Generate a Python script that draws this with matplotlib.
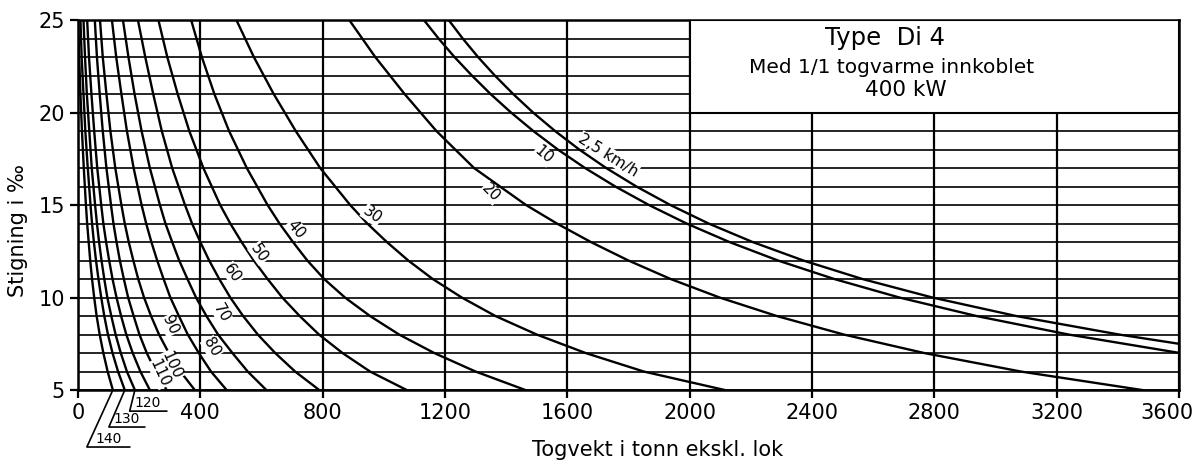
import matplotlib.pyplot as plt
from matplotlib.patches import Rectangle
from matplotlib.transforms import offset_copy

# gradient levels (promille) where the speed curves were read
stigning = [25, 23, 21, 19, 17, 15, 14, 13, 12, 11, 10, 9, 8, 7, 6, 5]

# train weight in tonnes at those gradients, one list per speed (km/h)
v20 = [887, 972, 1068, 1172, 1295, 1465, 1566, 1677, 1800, 1938, 2098, 2285, 2504, 2767, 3083, 3480]
v30 = [518, 575, 640, 712, 792, 890, 946, 1010, 1080, 1160, 1255, 1365, 1500, 1660, 1850, 2115]
v40 = [370, 405, 446, 494, 552, 620, 659, 703, 750, 805, 873, 955, 1050, 1165, 1300, 1463]
v50 = [263, 292, 326, 364, 410, 465, 498, 535, 575, 620, 668, 725, 788, 865, 955, 1075]
v60 = [196, 220, 246, 274, 308, 350, 373, 400, 429, 462, 498, 540, 588, 645, 710, 789]
v70 = [147, 165, 185, 208, 235, 268, 286, 308, 331, 358, 386, 420, 458, 505, 555, 616]
v80 = [111, 125, 142, 160, 182, 208, 223, 240, 259, 280, 302, 330, 359, 395, 435, 486]
v90 = [72, 81, 93, 106, 122, 142, 153, 166, 181, 197, 216, 239, 265, 297, 335, 382]
v100 = [55, 62, 71, 81, 93, 108, 116, 126, 137, 150, 164, 182, 201, 225, 254, 290]
v110 = [30, 36, 44, 53, 63, 76, 83, 92, 102, 113, 126, 141, 158, 179, 204, 235]
v120 = [18, 23, 29, 37, 45, 56, 62, 69, 77, 86, 96, 109, 123, 140, 160, 186]
v130 = [8, 12, 18, 24, 32, 41, 46, 52, 59, 67, 76, 86, 98, 113, 131, 153]
v140 = [0, 4, 8, 13, 19, 26, 30, 35, 40, 46, 53, 61, 71, 83, 97, 114]

# the two slowest curves leave through the right edge
y_2_5 = [25, 24, 23, 22, 21, 20, 19, 18, 17, 16, 15, 14, 13, 12, 11, 10, 9, 8, 7.5]
x_2_5 = [1212, 1258, 1308, 1363, 1423, 1488, 1560, 1639, 1727, 1826, 1937, 2062,
         2206, 2372, 2565, 2794, 3068, 3404, 3600]
y_10 = [25, 24, 23, 22, 21, 20, 19, 18, 17, 16, 15, 14, 13, 12, 11, 10, 9, 8, 7.01]
x_10 = [1131, 1179, 1231, 1288, 1349, 1416, 1489, 1569, 1658, 1757, 1867, 1990,
        2130, 2289, 2473, 2686, 2938, 3239, 3600]

# curve labels written along the curves
lab_txt = ['2,5 km/h', '10', '20', '30', '40', '50', '60', '70', '80', '90', '100', '110']
lab_x = [1734, 1522, 1350, 962, 714, 593, 505, 469, 437, 300, 306, 267]
lab_y = [17.7, 17.7, 15.65, 14.46, 13.7, 12.4, 11.3, 9.16, 7.3, 8.5, 6.35, 5.9]
lab_rot = [-32, -40, -45, -35, -50, -55, -55, -60, -60, -65, -65, -65]

xticks = [0, 400, 800, 1200, 1600, 2000, 2400, 2800, 3200, 3600]
yticks = [5, 10, 15, 20, 25]

fig = plt.figure(figsize=(11.96, 4.66), dpi=100)
ax = fig.add_axes([0.0652, 0.163, 0.9206, 0.794])
ax.set_xlim(0, 3600)
ax.set_ylim(5, 25)

# grid: every 1 promille, every 400 t
ax.hlines(range(5, 26), 0, 3600, color='k', lw=1.2, zorder=1)
ax.vlines(xticks, 5, 25, color='k', lw=1.6, zorder=1)

for v in [v20, v30, v40, v50, v60, v70, v80, v90, v100, v110, v120, v130, v140]:
    ax.plot(v, stigning, color='k', lw=1.7, zorder=2)
ax.plot(x_2_5, y_2_5, color='k', lw=1.7, zorder=2)
ax.plot(x_10, y_10, color='k', lw=1.7, zorder=2)

for t, x, y, r in zip(lab_txt, lab_x, lab_y, lab_rot):
    ax.text(x, y, t, rotation=r, ha='center', va='center', fontsize=11,
            zorder=4, bbox=dict(facecolor='white', edgecolor='none', pad=0.3))

# title box in the upper right corner
ax.add_patch(Rectangle((2000, 20), 1600, 5, facecolor='white', edgecolor='k',
                       lw=1.5, zorder=3))
ax.text(2640, 24.05, 'Type  Di 4', ha='center', va='center', fontsize=17.5, zorder=5)
ax.text(2660, 22.45, 'Med 1/1 togvarme innkoblet', ha='center', va='center',
        fontsize=14.5, zorder=5)
ax.text(2708, 21.2, '400 kW', ha='center', va='center', fontsize=15.5, zorder=5)

# leader lines for the labels under the axis
ax.plot([114, 29, 169], [5, 1.92, 1.92], color='k', lw=1.2, clip_on=False)
ax.plot([153, 101, 218], [5, 3.0, 3.0], color='k', lw=1.2, clip_on=False)
ax.plot([186, 169, 290], [5, 3.86, 3.86], color='k', lw=1.2, clip_on=False)
ax.text(100, 2.0, '140', fontsize=10, ha='center', va='bottom')
ax.text(160, 3.08, '130', fontsize=10, ha='center', va='bottom')
ax.text(228, 3.94, '120', fontsize=10, ha='center', va='bottom')

ax.set_xticks(xticks)
ax.set_yticks(yticks)
ax.tick_params(direction='out', length=6, width=1.6, labelsize=15, colors='k')
for s in ax.spines.values():
    s.set_linewidth(1.8)

# last x label sits a little to the left, as in the drawing
fig.canvas.draw()
last = ax.get_xticklabels()[-1]
last.set_transform(offset_copy(last.get_transform(), fig=fig, x=-12, units='dots'))

ax.set_xlabel('Togvekt i tonn ekskl. lok', fontsize=15)
ax.xaxis.set_label_coords(0.526, -0.135)
ax.set_ylabel('Stigning i ‰', fontsize=15)
ax.yaxis.set_label_coords(-0.045, 0.43)

fig.savefig('out.png', dpi=100)
